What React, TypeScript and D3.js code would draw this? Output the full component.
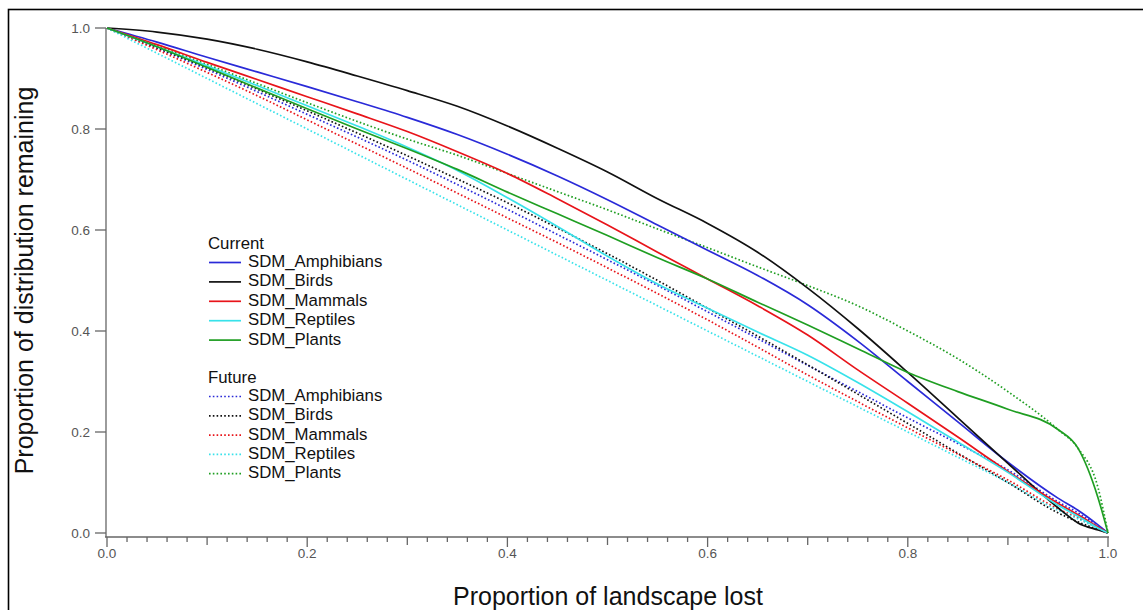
import { scaleLinear, line, curveMonotoneX } from 'd3'

const width = 1143,
      height = 610,
      axisY = 537,
      axisX = 106

// proportion of landscape lost (x) shared by every series
const lost = [0, 0.05, 0.1, 0.15, 0.2, 0.25, 0.3, 0.35, 0.4, 0.45, 0.5, 0.55, 0.6, 0.65, 0.7, 0.75, 0.8, 0.85, 0.9, 0.95, 0.97, 0.99, 1]

// current SDMs
const curAmphibians = [1, .972, .942, .913, .884, .854, .823, .789, .75, .707, .66, .61, .56, .51, .452, .38, .3, .22, .14, .069, .045, .016, 0]
const curBirds = [1, .992, .978, .958, .933, .905, .876, .845, .806, .762, .715, .662, .613, .556, .485, .405, .318, .228, .138, .05, .02, .006, 0]
const curMammals = [1, .967, .932, .898, .864, .83, .795, .755, .712, .662, .61, .556, .503, .45, .392, .323, .257, .19, .122, .059, .036, .012, 0]
const curReptiles = [1, .963, .925, .886, .846, .806, .764, .718, .664, .607, .548, .493, .445, .398, .352, .298, .24, .18, .12, .055, .033, .01, 0]
const curPlants = [1, .963, .922, .881, .84, .8, .761, .72, .675, .632, .589, .545, .503, .457, .412, .365, .318, .28, .245, .205, .168, .07, 0]

// future SDMs
const futAmphibians = [1, .96, .918, .874, .829, .784, .738, .69, .641, .591, .541, .49, .438, .385, .332, .28, .228, .177, .125, .062, .04, .014, 0]
const futBirds = [1, .961, .921, .879, .836, .792, .747, .701, .654, .604, .553, .5, .445, .39, .333, .275, .217, .158, .1, .04, .022, .007, 0]
const futMammals = [1, .957, .912, .866, .818, .77, .722, .673, .624, .575, .525, .474, .422, .368, .313, .26, .208, .156, .105, .048, .03, .01, 0]
const futReptiles = [1, .95, .9, .85, .8, .75, .7, .65, .6, .55, .5, .45, .4, .35, .3, .25, .2, .15, .1, .045, .028, .009, 0]
const futPlants = [1, .965, .928, .89, .852, .815, .78, .748, .712, .676, .64, .602, .565, .527, .49, .45, .4, .345, .28, .205, .168, .09, 0]

const names = ['SDM_Amphibians', 'SDM_Birds', 'SDM_Mammals', 'SDM_Reptiles', 'SDM_Plants']
const colors = ['#2a2ad8', '#111111', '#e8141a', '#38e2ea', '#1f9e22']
const current = [curAmphibians, curBirds, curMammals, curReptiles, curPlants]
const future = [futAmphibians, futBirds, futMammals, futReptiles, futPlants]

const yTicks = [0, 0.2, 0.4, 0.6, 0.8, 1.0]
const font = "Arial, 'Liberation Sans', sans-serif"

export default function App() {

  const x = scaleLinear().domain([0, 1]).range([107, 1108])
  const y = scaleLinear().domain([0, 1]).range([533, 28])

  const drawLine = (vals: number[]) => line<number>()
    .x((d, i) => x(lost[i]))
    .y(d => y(d))
    .curve(curveMonotoneX)(vals) as string

  const minor = x.ticks(50)

  return (
    <svg width={width} height={height} style={{ position: 'fixed', left: 0, top: 0, background: '#fff' }}
         fontFamily={font}>
      {/* frame */}
      <rect x={8.5} y={9.5} width={1145} height={620} fill='none' stroke='#000' strokeWidth={1.6} />

      {/* future, dotted */}
      {future.map((vals, i) =>
        <path key={'f' + i} d={drawLine(vals)} fill='none' stroke={colors[i]}
              strokeWidth={1.7} strokeDasharray='1.6 2.2' />
      )}
      {/* current, solid */}
      {current.map((vals, i) =>
        <path key={'c' + i} d={drawLine(vals)} fill='none' stroke={colors[i]} strokeWidth={1.7} />
      )}

      {/* y axis */}
      <line x1={axisX} x2={axisX} y1={y(1)} y2={axisY} stroke='#666' strokeWidth={1.3} />
      {yTicks.map(t =>
        <g key={t}>
          <line x1={axisX - 11} x2={axisX} y1={y(t)} y2={y(t)} stroke='#666' strokeWidth={1.3} />
          <text x={axisX - 16} y={y(t)} dy='0.35em' textAnchor='end' fontSize={13.5} fill='#555'>{t.toFixed(1)}</text>
        </g>
      )}

      {/* x axis */}
      <line x1={axisX - 1} x2={x(1) + 1} y1={axisY} y2={axisY} stroke='#666' strokeWidth={1.3} />
      {minor.map((t, i) => {
        const len = i % 10 === 0 ? 10 : i % 5 === 0 ? 8 : 5
        return <line key={i} x1={x(t)} x2={x(t)} y1={axisY} y2={axisY + len} stroke='#666' strokeWidth={1.3} />
      })}
      {yTicks.map(t =>
        <text key={t} x={x(t)} y={558} textAnchor='middle' fontSize={13.5} fill='#555'>{t.toFixed(1)}</text>
      )}

      {/* titles */}
      <text x={608} y={605} textAnchor='middle' fontSize={25} fill='#111'>Proportion of landscape lost</text>
      <text transform={`translate(33, ${y(0.5)}) rotate(-90)`} textAnchor='middle' fontSize={25} fill='#111'>
        Proportion of distribution remaining
      </text>

      {/* legend */}
      <g fontSize={16.8} fill='#111'>
        <text x={208} y={249}>Current</text>
        {names.map((n, i) =>
          <g key={'lc' + i} transform={`translate(0, ${267 + i * 19.4})`}>
            <line x1={209} x2={241} y1={-4.5} y2={-4.5} stroke={colors[i]} strokeWidth={1.7} />
            <text x={248} y={0}>{n}</text>
          </g>
        )}
        <text x={208} y={383}>Future</text>
        {names.map((n, i) =>
          <g key={'lf' + i} transform={`translate(0, ${401 + i * 19.3})`}>
            <line x1={209} x2={241} y1={-4.5} y2={-4.5} stroke={colors[i]} strokeWidth={1.7} strokeDasharray='1.6 2.2' />
            <text x={248} y={0}>{n}</text>
          </g>
        )}
      </g>
    </svg>
  )
}
